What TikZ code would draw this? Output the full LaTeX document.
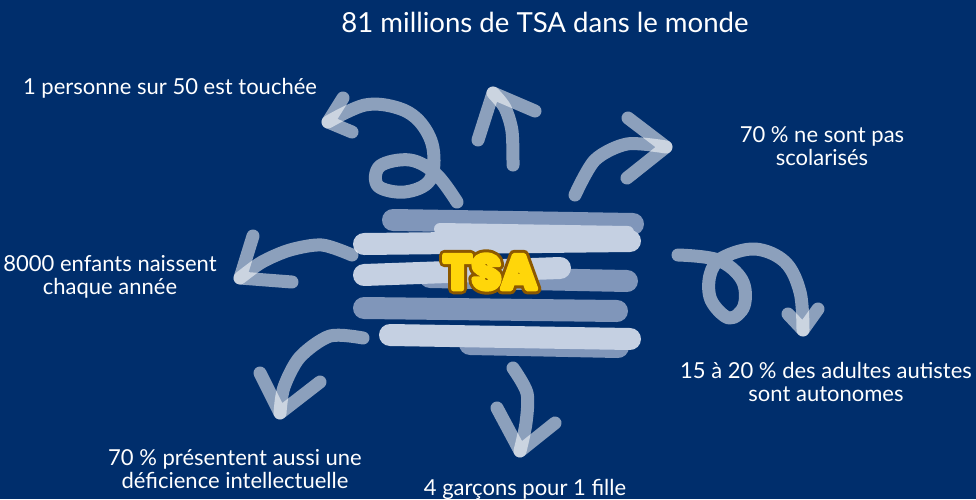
\documentclass[tikz,border=0pt]{standalone}
\usepackage{fontspec}
\setmainfont{Lato}
\newfontfamily\tsafont{Poppins}

\definecolor{navy}{RGB}{0,46,108}
\definecolor{scribdark}{RGB}{128,150,186}
\definecolor{scriblight}{RGB}{197,208,226}
\definecolor{tsayellow}{RGB}{255,214,10}
\definecolor{tsabrown}{RGB}{140,88,0}

% thickened text: stroke width in bp
\newcommand{\thicktext}[2]{\special{pdf:code q 2 Tr #1 w 1 j 1 J}#2\special{pdf:code Q}}

\tikzset{
  lbl/.style={text=white, align=center, inner sep=0pt,
    font=\fontsize{11}{11.5}\selectfont},
  swoosh/.style={draw=white, draw opacity=0.55, line width=6.5pt,
    line cap=round, line join=round},
  scrib/.style={line width=11pt, line cap=round},
  tsalbl/.style={inner sep=0pt, font=\tsafont\bfseries\fontsize{24}{24}\selectfont}
}

\begin{document}
\begin{tikzpicture}[x=0.5pt, y=-0.5pt]
  \fill[navy] (0,0) rectangle (976,499);
  \useasboundingbox (0,0) rectangle (976,499);

  % Scribble
  \draw[scrib, scribdark] (393,220) -- (633,224);
  \draw[scrib, scriblight, line width=6pt] (440,229) -- (628,232);
  \draw[scrib, scriblight] (364,244) -- (630,241);
  \draw[scrib, scribdark] (430,277) -- (627,281);
  \draw[scrib, scriblight] (364,275) -- (560,268);
  \draw[scrib, scribdark] (364,308) -- (617,311);
  \draw[scrib, scribdark] (470,344) -- (618,347);
  \draw[scrib, scriblight] (390,335) -- (630,339);

  % Define nodes
  \node[tsalbl, text=tsabrown] (tsaout) at (490,272) {\thicktext{5.4}{TSA}};
  \node[tsalbl, text=tsayellow] (tsa) at (490,272) {\thicktext{2.4}{TSA}};

  \node[lbl, font=\fontsize{13.8}{15}\selectfont] (monde) at (545,22)
    {81 millions de TSA dans le monde};
  \node[lbl] (touchee) at (170,88) {1 personne sur 50 est touchée};
  \node[lbl] (scol) at (822,146) {70 \% ne sont pas\\scolarisés};
  \node[lbl] (enfants) at (110,277) {8000 enfants naissent\\chaque année};
  \node[lbl] (auto) at (826,382) {15 à 20 \% des adultes autistes\\sont autonomes};
  \node[lbl] (defic) at (235,469) {70 \% présentent aussi une\\déficience intellectuelle};
  \node[lbl] (garcons) at (525,489) {4 garçons pour 1 fille};

  % Draw arrows
  \coordinate (t1) at (328,122);
  \draw[swoosh] plot[smooth, tension=0.6] coordinates {(457,202) (436,174)
    (410,160) (380,166) (378,186) (405,192) (430,180) (433,148) (420,122)
    (398,108) (365,105) (t1)};
  \draw[swoosh] (343,98) -- (t1) -- (352,132);

  \coordinate (t2) at (493,93);
  \draw[swoosh] plot[smooth] coordinates {(513,165) (512,131) (505,108) (t2)};
  \draw[swoosh] (478,140) -- (t2) -- (535,111);

  \coordinate (t3) at (666,147);
  \draw[swoosh] plot[smooth] coordinates {(575,195) (595,160) (627,144) (t3)};
  \draw[swoosh] (628,118) -- (t3) -- (627,178);

  \coordinate (t4) at (803,330);
  \draw[swoosh] plot[smooth, tension=0.6] coordinates {(678,255) (718,260)
    (742,280) (744,306) (729,318) (711,300) (710,275) (722,258) (755,249)
    (785,262) (800,292) (t4)};
  \draw[swoosh] (788,314) -- (t4) -- (818,309);

  \coordinate (t5) at (240,278);
  \draw[swoosh] plot[smooth] coordinates {(352,255) (322,245) (290,250)
    (262,262) (t5)};
  \draw[swoosh] (253,236) -- (t5) -- (292,282);

  \coordinate (t6) at (280,413);
  \draw[swoosh] plot[smooth] coordinates {(363,338) (330,336) (300,357)
    (284,387) (t6)};
  \draw[swoosh] (260,373) -- (t6) -- (320,382);

  \coordinate (t7) at (520,451);
  \draw[swoosh] plot[smooth] coordinates {(513,368) (527,393) (526,423) (t7)};
  \draw[swoosh] (497,408) -- (t7) -- (555,423);
\end{tikzpicture}
\end{document}
